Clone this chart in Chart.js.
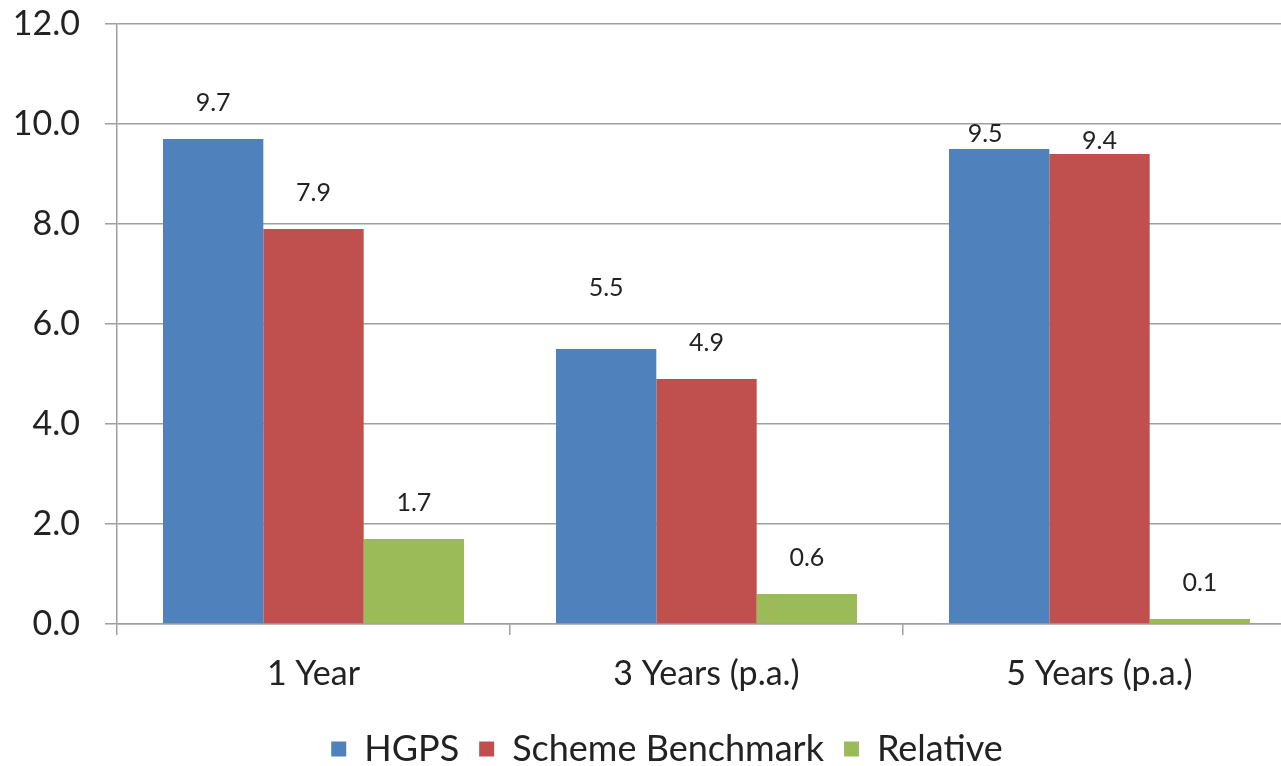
<!DOCTYPE html>
<html>
<head>
<meta charset="utf-8">
<script src="https://cdn.jsdelivr.net/npm/chart.js@4"></script>
<style>
  html, body { margin: 0; padding: 0; background: #fff; overflow: hidden; }
  #wrap { width: 1300px; height: 766px; }
</style>
</head>
<body>
<div id="wrap"><canvas id="returns"></canvas></div>
<script>
const categories = ['1 Year', '3 Years (p.a.)', '5 Years (p.a.)'];
const hgps = [9.7, 5.5, 9.5];
const benchmark = [7.9, 4.9, 9.4];
const relative = [1.7, 0.6, 0.1];
const yTicks = [0, 2, 4, 6, 8, 10, 12];

const fontFamily = 'Lato, "Open Sans", sans-serif';
const textColor = '#222';
const lineColor = '#a0a0a0';

// label nudges [dx, dy] per dataset, a couple of labels sit closer to their bars
const labelNudge = [
    [[0, 0], [0, -25], [-14, 21]],
    [[0, 0], [0, 0], [0, 23]],
    [[0, 0], [0, 0], [0, 0]]
];

const valueLabels = {
    id: 'valueLabels',
    afterDatasetsDraw(chart) {
        const ctx = chart.ctx;
        ctx.save();
        ctx.font = `25px ${fontFamily}`;
        ctx.fillStyle = textColor;
        ctx.textAlign = 'center';
        ctx.textBaseline = 'middle';
        chart.data.datasets.forEach((ds, i) => {
            chart.getDatasetMeta(i).data.forEach((bar, j) => {
                const [dx, dy] = labelNudge[i][j];
                ctx.fillText(ds.data[j].toFixed(1), bar.x + dx, bar.y - 36 + dy);
            });
        });
        ctx.restore();
    }
};

// legend sits a little right of the canvas centre
const legendShift = {
    id: 'legendShift',
    afterLayout(chart) {
        chart.legend.left += 19;
        chart.legend.right += 19;
    }
};

new Chart(document.getElementById('returns'), {
    type: 'bar',
    data: {
        labels: categories,
        datasets: [
            { label: 'HGPS', data: hgps, backgroundColor: '#4f81bd' },
            { label: 'Scheme Benchmark', data: benchmark, backgroundColor: '#c0504d' },
            { label: 'Relative', data: relative, backgroundColor: '#9bbb59' }
        ]
    },
    options: {
        responsive: true,
        maintainAspectRatio: false,
        animation: false,
        layout: { padding: { top: 24, right: 4, left: 0, bottom: -11 } },
        datasets: {
            bar: { categoryPercentage: 0.766, barPercentage: 1 }
        },
        scales: {
            x: {
                grid: { drawOnChartArea: false, tickLength: 11, color: lineColor, lineWidth: 1.5 },
                border: { color: lineColor, width: 1.5 },
                ticks: { color: textColor, font: { family: fontFamily, size: 34 }, padding: 19 },
                afterFit: scale => {
                    scale.height = 87;
                    scale.paddingLeft = 0;
                    scale.paddingRight = 0;
                }
            },
            y: {
                min: 0,
                max: 12,
                afterBuildTicks: scale => { scale.ticks = yTicks.map(v => ({ value: v })); },
                grid: { color: lineColor, lineWidth: 1.5, tickLength: 12 },
                border: { color: lineColor, width: 1.5 },
                ticks: {
                    color: textColor,
                    font: { family: fontFamily, size: 34 },
                    padding: 25,
                    callback: v => v.toFixed(1)
                },
                afterFit: scale => {
                    scale.width = 117;
                    scale.paddingTop = 0;
                    scale.paddingBottom = 0;
                }
            }
        },
        plugins: {
            legend: {
                position: 'bottom',
                align: 'center',
                labels: {
                    color: textColor,
                    font: { family: fontFamily, size: 36 },
                    boxWidth: 15,
                    boxHeight: 15,
                    padding: 20
                }
            },
            tooltip: { enabled: false }
        }
    },
    plugins: [valueLabels, legendShift]
});
</script>
</body>
</html>
